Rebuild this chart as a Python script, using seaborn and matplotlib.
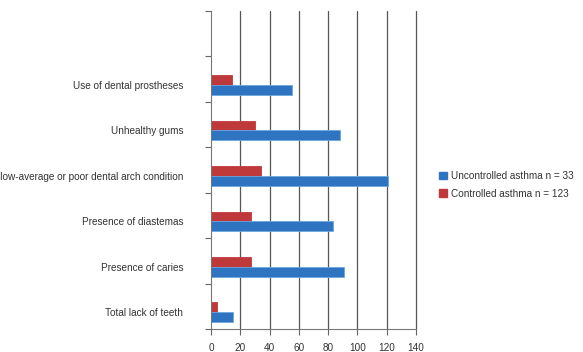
import matplotlib
matplotlib.use("Agg")

import matplotlib.pyplot as plt
import pandas as pd
import seaborn as sns
from matplotlib.patches import Patch


categories = [
    "Use of dental prostheses",
    "Unhealthy gums",
    "Below-average or poor dental arch condition",
    "Presence of diastemas",
    "Presence of caries",
    "Total lack of teeth",
]
uncontrolled = [55, 88, 121, 83, 91, 15]
controlled = [14, 30, 34, 27, 27, 4]

label_unc = "Uncontrolled asthma n = 33"
label_con = "Controlled asthma n = 123"

x_ticks = [0, 20, 40, 60, 80, 100, 120, 140]

BLUE = "#2E74C0"
RED = "#C0393A"

df = pd.DataFrame({
    "category": categories * 2,
    "value": controlled + uncontrolled,
    "group": [label_con] * len(categories) + [label_unc] * len(categories),
})

sns.set_theme(style="white")
plt.rcParams["font.family"] = ["Liberation Sans", "DejaVu Sans"]

fig = plt.figure(figsize=(5.83, 3.52), dpi=100)
ax = fig.add_axes([0.362, 0.0653, 0.3516, 0.9034])

sns.barplot(
    data=df, x="value", y="category", hue="group", order=categories,
    hue_order=[label_con, label_unc], palette=[RED, BLUE], saturation=1,
    orient="h", width=0.43, errorbar=None, legend=False, ax=ax,
)
for bar, color in zip(ax.patches, [RED] * 6 + [BLUE] * 6):
    bar.set_edgecolor("#6AA6E2" if color == BLUE else color)
    bar.set_linewidth(0.6)

# extra empty slot at the top, bars sit slightly below the boundary ticks
shift = -0.13
ax.set_ylim(len(categories) - 0.5 + shift, -1.5 + shift)
ax.set_xlim(0, 140)
ax.set_xticks(x_ticks)
ax.set_xticklabels([str(t) for t in x_ticks], fontsize=7.2, color="#333333")
ax.set_yticks(range(len(categories)))
ax.set_yticklabels(categories, fontsize=7.2, color="#333333")
ax.set_yticks([i - 0.5 + shift for i in range(-1, len(categories) + 1)], minor=True)
ax.tick_params(axis="y", which="major", length=0, pad=20)
ax.tick_params(axis="y", which="minor", length=4, width=0.8, color="#666666", left=True)
ax.tick_params(axis="x", length=4, width=0.8, color="#666666", bottom=True, pad=6)
ax.set_xlabel("")
ax.set_ylabel("")

for t in x_ticks[1:]:
    ax.axvline(t, color="#555555", lw=0.9, zorder=0, clip_on=False)

for side in ["top", "right"]:
    ax.spines[side].set_visible(False)
ax.spines["left"].set_color("#777777")
ax.spines["bottom"].set_color("#777777")
ax.spines["left"].set_linewidth(0.8)
ax.spines["bottom"].set_linewidth(0.8)

handles = [Patch(facecolor=BLUE, edgecolor=BLUE), Patch(facecolor=RED, edgecolor=RED)]
fig.legend(
    handles, [label_unc, label_con], loc="center left",
    bbox_to_anchor=(0.738, 0.475), frameon=False, fontsize=7.2,
    handlelength=0.8, handleheight=0.8, handletextpad=0.4, labelspacing=0.75,
    labelcolor="#333333",
)

fig.savefig("out.png", dpi=100)
